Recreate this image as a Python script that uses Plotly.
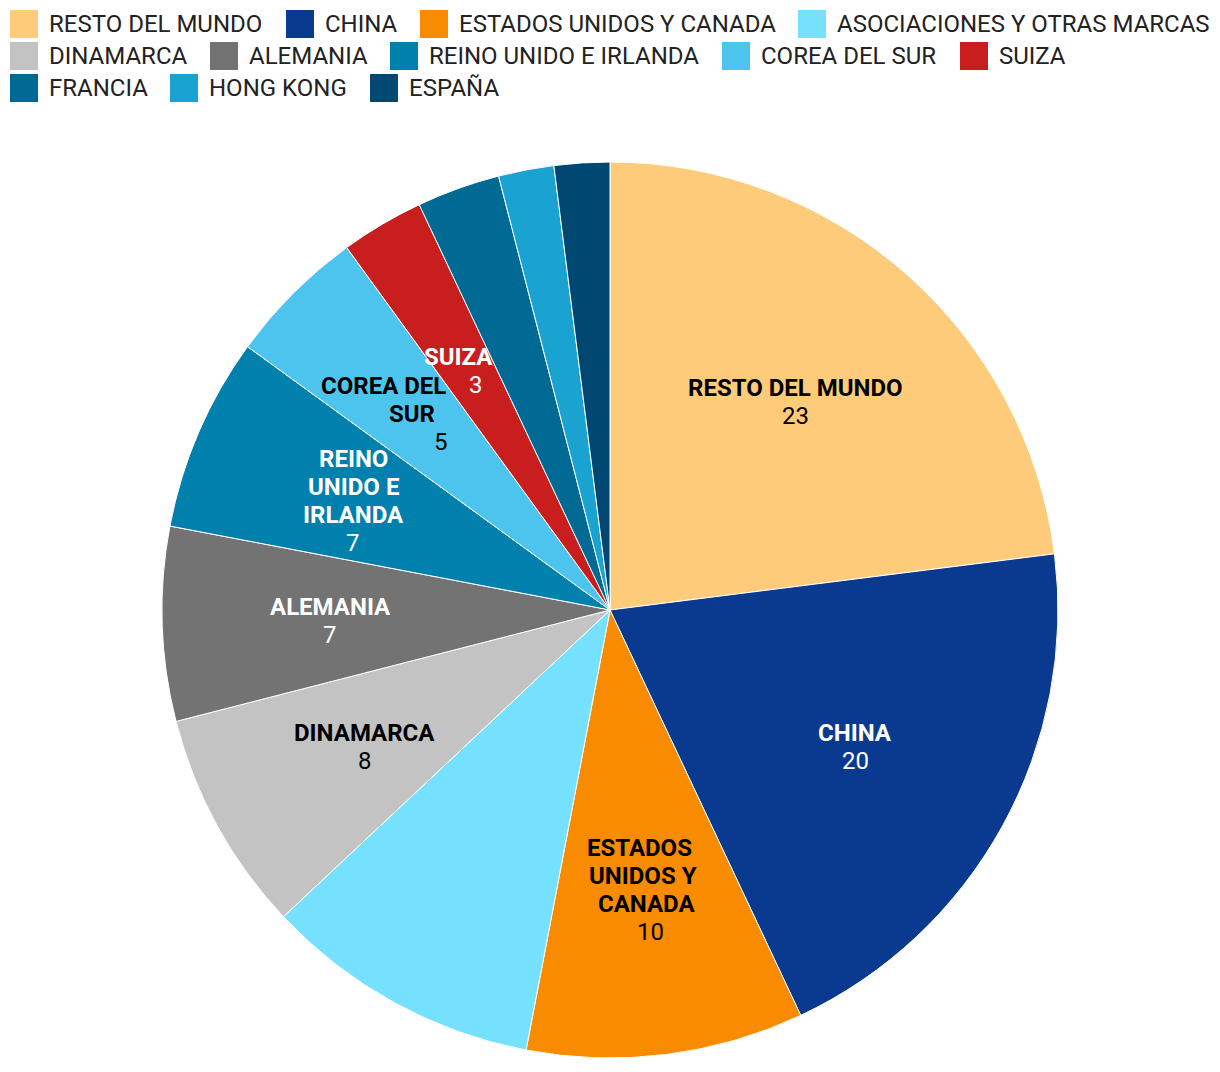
import math
import plotly.graph_objects as go

# ---- data ----
categories = ["RESTO DEL MUNDO", "CHINA", "ESTADOS UNIDOS Y CANADA", "ASOCIACIONES Y OTRAS MARCAS",
              "DINAMARCA", "ALEMANIA", "REINO UNIDO E IRLANDA", "COREA DEL SUR", "SUIZA",
              "FRANCIA", "HONG KONG", "ESPAÑA"]
values = [23, 20, 10, 10, 8, 7, 7, 5, 3, 3, 2, 2]
slice_labels = [["RESTO DEL MUNDO"], ["CHINA"], ["ESTADOS", "UNIDOS Y", "CANADA"], [],
                ["DINAMARCA"], ["ALEMANIA"], ["REINO", "UNIDO E", "IRLANDA"], ["COREA DEL", "SUR"], ["SUIZA"],
                [], [], []]
colors = ["#FECB7A", "#0A3A90", "#F88B00", "#75E1FF", "#C3C3C3", "#737373",
          "#0080AD", "#4DC4EE", "#C81E1E", "#006994", "#1AA3D1", "#004872"]
label_colors = ["#000000", "#FFFFFF", "#000000", "#000000", "#000000", "#FFFFFF",
                "#FFFFFF", "#000000", "#FFFFFF", "#FFFFFF", "#FFFFFF", "#FFFFFF"]

# ---- layout constants ----
W, H = 1220, 1072
M_TOP, M_BOT = 162, 14
plot_h = H - M_TOP - M_BOT
R_PX = min(W, plot_h) / 2
FONT = "Roboto, Arial, sans-serif"
LABEL_SIZE = 24
LINE_H = 28
LABEL_DY = 2
# horizontal drift of successive label lines (px per line), as in the reference
LINE_SLANT = {"ESTADOS UNIDOS Y CANADA": 3.7, "COREA DEL SUR": 28.5, "SUIZA": 17}


def px_to_paper(px_x, px_y):
    return px_x / W, (H - M_BOT - px_y) / plot_h


fig = go.Figure(go.Pie(
    labels=categories, values=values, sort=False, direction="clockwise", rotation=0,
    marker=dict(colors=colors, line=dict(color="#FFFFFF", width=1)),
    textinfo="none", hoverinfo="label+value", showlegend=False,
    domain=dict(x=[0, 1], y=[0, 1]),
))

annotations = []
total = sum(values)
cum = 0
cx, cy = W / 2, M_TOP + plot_h / 2
for cat, val, lines, lc in zip(categories, values, slice_labels, label_colors):
    mid = (cum + val / 2) / total * 2 * math.pi
    cum += val
    if not lines:
        continue
    r = 0.625 * R_PX
    bx = cx + r * math.sin(mid)
    by = cy - r * math.cos(mid) + LABEL_DY
    all_lines = [f"<b>{t}</b>" for t in lines] + [str(val)]
    n = len(all_lines)
    slant = LINE_SLANT.get(cat, 0)
    for i, t in enumerate(all_lines):
        k = i - (n - 1) / 2
        x, y = px_to_paper(bx + k * slant, by + k * LINE_H)
        annotations.append(dict(
            x=x, y=y, xref="paper", yref="paper", xanchor="center", yanchor="middle",
            text=t, showarrow=False, align="center",
            font=dict(family=FONT, size=LABEL_SIZE, color=lc)))

# custom legend with large square swatches
legend_rows = [[0, 1, 2, 3], [4, 5, 6, 7, 8], [9, 10, 11]]
legend_swatch_x = [[10, 286, 420, 798], [10, 210, 390, 722, 960], [10, 170, 370]]
row_center_y = [24, 56, 88]
SW = 28
shapes = []
for row, xs, rcy in zip(legend_rows, legend_swatch_x, row_center_y):
    for idx, sx in zip(row, xs):
        x0, y0 = px_to_paper(sx, rcy + SW / 2)
        x1, y1 = px_to_paper(sx + SW, rcy - SW / 2)
        shapes.append(dict(type="rect", xref="paper", yref="paper",
                           x0=x0, x1=x1, y0=y0, y1=y1,
                           fillcolor=colors[idx], line=dict(width=0)))
        tx, ty = px_to_paper(sx + 37, rcy)
        annotations.append(dict(
            x=tx, y=ty, xref="paper", yref="paper",
            xanchor="left", yanchor="middle", text=categories[idx], showarrow=False,
            font=dict(family=FONT, size=24, color="#222222")))

fig.update_layout(
    width=W, height=H, margin=dict(l=0, r=0, t=M_TOP, b=M_BOT),
    paper_bgcolor="#FFFFFF", plot_bgcolor="#FFFFFF",
    annotations=annotations, shapes=shapes, showlegend=False,
    font=dict(family=FONT),
)

fig.write_html("out.html")
